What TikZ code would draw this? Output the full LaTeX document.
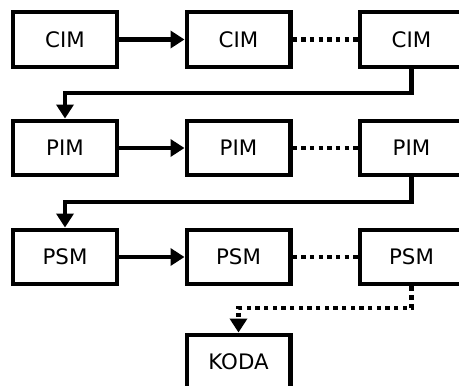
\documentclass[tikz,border=0pt]{standalone}
\usepackage{fontspec}
\setmainfont{DejaVu Sans}
\usetikzlibrary{arrows.meta}
\begin{document}
\begin{tikzpicture}[x=0.75pt,y=-0.75pt,
  box/.style={draw, line width=3.1pt, minimum width=77.9pt, minimum height=41.1pt, inner sep=0pt, font=\fontsize{16}{19}\selectfont},
  conn/.style={line width=3.1pt, -{Triangle[length=10.5pt,width=12.75pt]}},
  dots/.style={line width=3.1pt, dash pattern=on 3.3pt off 3.2pt}]
\useasboundingbox (0,0) rectangle (459,385);
\node[box] (c1) at (65,39.5) {CIM};
\node[box] (c2) at (238.5,39.5) {CIM};
\node[box] (c3) at (411.5,39.5) {CIM};
\node[box] (p1) at (65,148) {PIM};
\node[box] (p2) at (238.5,148) {PIM};
\node[box] (p3) at (411.5,148) {PIM};
\node[box] (s1) at (65,257) {PSM};
\node[box] (s2) at (238.5,257) {PSM};
\node[box] (s3) at (411.5,257) {PSM};
\node[box] (k) at (238.5,362) {KODA};
\coordinate (e1) at (65,93);
\coordinate (e2) at (65,202);
\coordinate (e3) at (238.5,308);
\draw[conn] (c1) -- (c2);
\draw[dots] (c2) -- (c3);
\draw[conn] (p1) -- (p2);
\draw[dots] (p2) -- (p3);
\draw[conn] (s1) -- (s2);
\draw[dots] (s2) -- (s3);
\draw[conn] (c3.south) |- (e1) -- (p1.north);
\draw[conn] (p3.south) |- (e2) -- (s1.north);
\draw[conn, dots] (s3.south) |- (e3) -- (k.north);
\end{tikzpicture}
\end{document}
